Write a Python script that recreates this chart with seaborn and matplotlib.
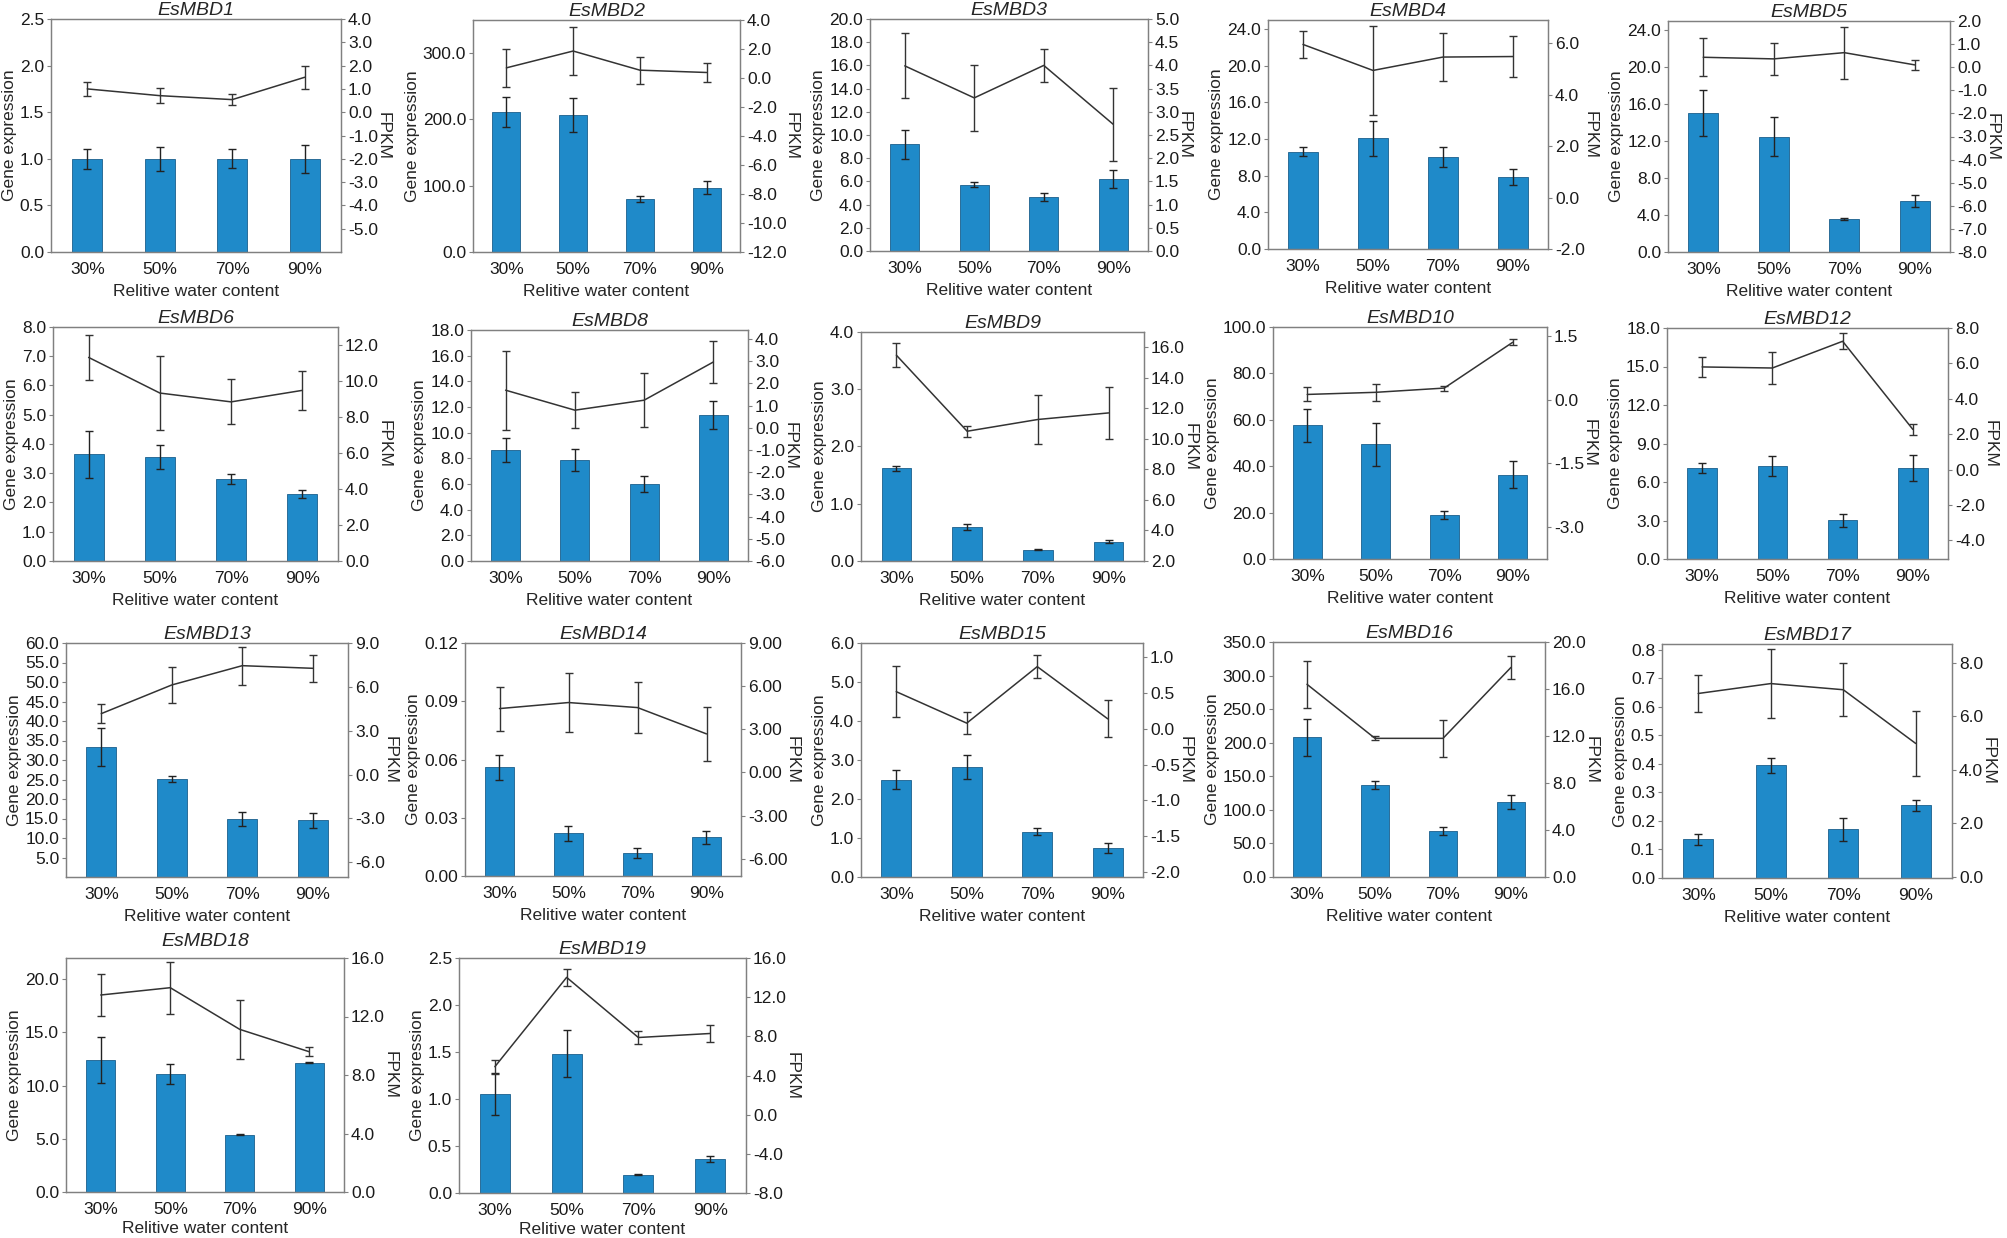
"""
EsMBD expression under different relative water content
Bars = qRT-PCR gene expression (left axis), line = FPKM (right axis)
"""

import numpy as np
import pandas as pd
import matplotlib
matplotlib.use('Agg')
import matplotlib.pyplot as plt
from matplotlib.ticker import FormatStrFormatter
import seaborn as sns

# ---- data ----
water = ['30%', '50%', '70%', '90%']

genes = ['EsMBD1', 'EsMBD2', 'EsMBD3', 'EsMBD4', 'EsMBD5',
         'EsMBD6', 'EsMBD8', 'EsMBD9', 'EsMBD10', 'EsMBD12',
         'EsMBD13', 'EsMBD14', 'EsMBD15', 'EsMBD16', 'EsMBD17',
         'EsMBD18', 'EsMBD19']

expr_mean = [
    [1.0, 1.0, 1.0, 1.0],
    [211, 207, 80, 97],
    [9.2, 5.73, 4.66, 6.2],
    [10.6, 12.1, 10.05, 7.9],
    [15.05, 12.5, 3.55, 5.52],
    [3.65, 3.55, 2.8, 2.29],
    [8.64, 7.88, 6.0, 11.39],
    [1.62, 0.6, 0.2, 0.34],
    [57.6, 49.4, 18.9, 36.4],
    [7.09, 7.22, 3.01, 7.09],
    [33.4, 25.06, 14.9, 14.5],
    [0.0559, 0.022, 0.012, 0.02],
    [2.5, 2.82, 1.16, 0.75],
    [208, 137, 68.7, 112],
    [0.135, 0.395, 0.17, 0.255],
    [12.4, 11.1, 5.4, 12.16],
    [1.055, 1.484, 0.193, 0.36],
]
expr_err = [
    [0.11, 0.13, 0.1, 0.15],
    [23, 26, 5, 10],
    [1.25, 0.2, 0.33, 0.75],
    [0.5, 1.9, 1.1, 0.88],
    [2.45, 2.15, 0.13, 0.62],
    [0.8, 0.42, 0.17, 0.15],
    [0.96, 0.86, 0.63, 1.1],
    [0.04, 0.05, 0.01, 0.03],
    [7.0, 9.4, 1.7, 6.0],
    [0.4, 0.78, 0.49, 1.04],
    [4.85, 0.8, 1.7, 2.0],
    [0.0065, 0.004, 0.0025, 0.0033],
    [0.25, 0.31, 0.09, 0.13],
    [28, 6.5, 5.5, 10],
    [0.02, 0.027, 0.04, 0.02],
    [2.15, 0.93, 0.08, 0.06],
    [0.22, 0.25, 0.005, 0.03],
]

fpkm_mean = [
    [1.0, 0.71, 0.54, 1.5],
    [0.7, 1.86, 0.54, 0.38],
    [3.99, 3.3, 4.0, 2.73],
    [5.95, 4.94, 5.46, 5.48],
    [0.43, 0.36, 0.63, 0.1],
    [11.31, 9.33, 8.84, 9.48],
    [1.69, 0.79, 1.24, 2.96],
    [15.48, 10.5, 11.27, 11.7],
    [0.12, 0.17, 0.27, 1.35],
    [5.8, 5.74, 7.25, 2.27],
    [4.17, 6.13, 7.45, 7.27],
    [4.44, 4.86, 4.51, 2.68],
    [0.52, 0.08, 0.87, 0.14],
    [16.4, 11.8, 11.8, 17.84],
    [6.85, 7.22, 6.99, 4.98],
    [13.47, 13.97, 11.12, 9.59],
    [4.9, 14.02, 7.88, 8.29],
]
fpkm_err = [
    [0.3, 0.32, 0.24, 0.5],
    [1.3, 1.65, 0.93, 0.67],
    [0.7, 0.71, 0.35, 0.78],
    [0.51, 1.73, 0.92, 0.8],
    [0.82, 0.7, 1.12, 0.22],
    [1.23, 2.07, 1.25, 1.07],
    [1.78, 0.82, 1.22, 0.95],
    [0.8, 0.37, 1.59, 1.7],
    [0.165, 0.2, 0.06, 0.07],
    [0.54, 0.92, 0.44, 0.3],
    [0.63, 1.26, 1.3, 0.91],
    [1.53, 2.07, 1.78, 1.87],
    [0.36, 0.15, 0.16, 0.26],
    [2.0, 0.18, 1.55, 1.0],
    [0.69, 1.3, 1.0, 1.23],
    [1.46, 1.78, 2.0, 0.31],
    [0.73, 0.87, 0.68, 0.82],
]

# ---- axis scales: (ylim, first tick, last tick, step) ----
left_scale = [
    ((0, 2.5), 0, 2.5, 0.5),
    ((0, 350), 0, 300, 100),
    ((0, 20), 0, 20, 2),
    ((0, 25), 0, 24, 4),
    ((0, 25), 0, 24, 4),
    ((0, 8), 0, 8, 1),
    ((0, 18), 0, 18, 2),
    ((0, 4), 0, 4, 1),
    ((0, 100), 0, 100, 20),
    ((0, 18), 0, 18, 3),
    ((0, 60), 5, 60, 5),
    ((0, 0.12), 0, 0.12, 0.03),
    ((0, 6), 0, 6, 1),
    ((0, 350), 0, 350, 50),
    ((0, 0.82), 0, 0.8, 0.1),
    ((0, 22), 0, 20, 5),
    ((0, 2.5), 0, 2.5, 0.5),
]
right_scale = [
    ((-6, 4), -5, 4, 1),
    ((-12, 4), -12, 4, 2),
    ((0, 5), 0, 5, 0.5),
    ((-2, 6.9), -2, 6, 2),
    ((-8, 2), -8, 2, 1),
    ((0, 13), 0, 12, 2),
    ((-6, 4.4), -6, 4, 1),
    ((2, 17), 2, 16, 2),
    ((-3.76, 1.71), -3, 1.5, 1.5),
    ((-5.05, 8), -4, 8, 2),
    ((-7, 9), -6, 9, 3),
    ((-7.2, 9), -6, 9, 3),
    ((-2.07, 1.2), -2, 1, 0.5),
    ((0, 20), 0, 20, 4),
    ((-0.05, 8.7), 0, 8, 2),
    ((0, 16), 0, 16, 4),
    ((-8, 16), -8, 16, 4),
]

# axes boxes in pixels: left, top, right, bottom
boxes = [
    (51, 19, 341, 252), (473, 20, 740, 252), (870, 19, 1148, 251),
    (1268, 20, 1548, 249), (1668, 21, 1950, 252),
    (53, 327, 338, 561), (471, 330, 748, 561), (861, 332, 1144, 561),
    (1273, 327, 1547, 559), (1667, 328, 1948, 559),
    (66, 643, 348, 877), (465, 643, 741, 876), (861, 643, 1143, 877),
    (1273, 642, 1545, 877), (1662, 644, 1952, 878),
    (66, 958, 344, 1192), (459, 958, 746, 1193),
]

W, H = 2008, 1238
BAR_COLOR = '#1f8ac9'
SPINE_COLOR = '#808080'


def make_ticks(start, stop, step):
    n = int(round((stop - start) / step))
    return [start + i * step for i in range(n + 1)]


def draw_panel(fig, i):
    l, t, r, b = boxes[i]
    ax = fig.add_axes([l / W, 1 - b / H, (r - l) / W, (b - t) / H])

    df = pd.DataFrame({'water': water, 'expr': expr_mean[i]})
    sns.barplot(data=df, x='water', y='expr', ax=ax, color=BAR_COLOR,
                saturation=1, width=0.42, errorbar=None,
                edgecolor='#1b5f8c', linewidth=0.6)
    x = np.arange(len(water))
    ax.errorbar(x, expr_mean[i], yerr=expr_err[i], fmt='none',
                ecolor='#222222', elinewidth=1.0, capsize=3, capthick=1.0)

    ax2 = ax.twinx()
    sns.lineplot(x=x, y=fpkm_mean[i], ax=ax2, color='#333333', linewidth=1.1)
    ax2.errorbar(x, fpkm_mean[i], yerr=fpkm_err[i], fmt='none',
                 ecolor='#333333', elinewidth=1.0, capsize=3, capthick=1.0)

    ax.set_xlim(-0.5, 3.5)

    lim, a, z, s = left_scale[i]
    ax.set_ylim(*lim)
    ax.set_yticks(make_ticks(a, z, s))
    lim, a, z, s = right_scale[i]
    ax2.set_ylim(*lim)
    ax2.set_yticks(make_ticks(a, z, s))

    fmt = '%.2f' if genes[i] == 'EsMBD14' else '%.1f'
    ax.yaxis.set_major_formatter(FormatStrFormatter(fmt))
    ax2.yaxis.set_major_formatter(FormatStrFormatter(fmt))

    title_pad = 9 if genes[i] == 'EsMBD18' else 2
    ax.set_title(genes[i], fontsize=14, style='italic', pad=title_pad)
    xpad = 3 if b > 1100 else 5
    ax.set_xlabel('Relitive water content', fontsize=12.5, labelpad=xpad)
    ax.set_ylabel('Gene expression', fontsize=12.5, labelpad=2)
    ax2.set_xlabel('')
    ax2.set_ylabel('FPKM', fontsize=12.5, rotation=270, labelpad=9)

    for a_ in (ax, ax2):
        for sp in a_.spines.values():
            sp.set_color(SPINE_COLOR)
            sp.set_linewidth(0.9)
        a_.tick_params(axis='y', labelsize=12.5, length=3, width=0.8,
                       color=SPINE_COLOR, pad=2, labelcolor='#1a1a1a')
    ax.tick_params(axis='x', labelsize=12.5, length=0, pad=7,
                   labelcolor='#1a1a1a')


def main():
    sns.set_style('white')
    plt.rcParams['font.family'] = ['Liberation Sans', 'DejaVu Sans']

    fig = plt.figure(figsize=(W / 100, H / 100), dpi=100)
    for i in range(len(genes)):
        draw_panel(fig, i)

    fig.savefig('out.png', dpi=100, facecolor='white')
    print('saved out.png')


if __name__ == '__main__':
    main()
